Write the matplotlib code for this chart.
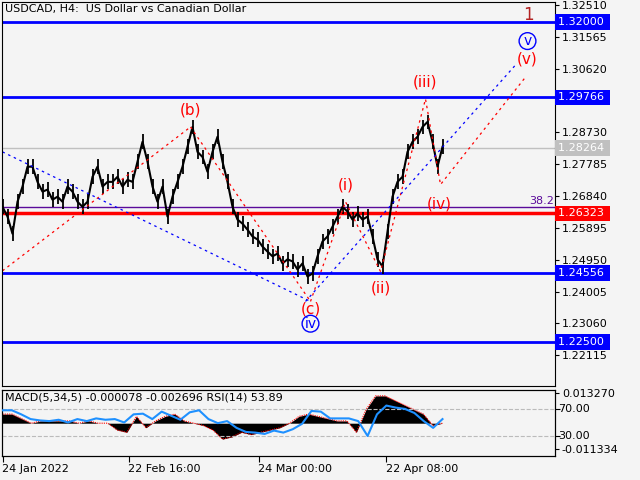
import matplotlib
matplotlib.use("Agg")
import matplotlib.pyplot as plt
import numpy as np

prices = [1.2652,1.2623,1.2572,1.2667,1.2712,1.2771,1.2771,1.2726,1.2697,1.2703,1.2673,1.2682,1.2667,1.2712,1.2697,
          1.2667,1.2652,1.2667,1.2741,1.2771,1.2712,1.2726,1.2726,1.2741,1.2712,1.2732,1.2726,1.2786,1.2845,1.2786,
          1.2712,1.2667,1.2712,1.2623,1.2682,1.2726,1.2771,1.2830,1.2889,1.2815,1.2800,1.2756,1.2815,1.2860,1.2786,
          1.2726,1.2652,1.2614,1.2602,1.2584,1.2564,1.2555,1.2534,1.2519,1.2505,1.2513,1.2484,1.2496,1.2490,1.2466,
          1.2484,1.2445,1.2454,1.2505,1.2549,1.2564,1.2593,1.2623,1.2652,1.2638,1.2614,1.2632,1.2614,1.2623,1.2564,
          1.2496,1.2475,1.2578,1.2682,1.2726,1.2741,1.2815,1.2845,1.2860,1.2889,1.2904,1.2845,1.2771,1.2830]
rsi = [68,68,62,55,53,52,54,50,55,52,56,54,55,50,62,63,55,66,60,54,65,68,55,49,52,42,36,35,33,38,35,
       40,48,67,66,56,56,56,52,30,62,75,72,70,64,52,42,55]
macd = [0.004,0.004,0.002,0.000,0.001,0.001,0.001,0.001,0.000,0.001,0.000,0.000,-0.003,-0.004,0.003,-0.002,
        0.001,0.003,0.004,0.001,0.000,-0.001,-0.003,-0.007,-0.006,-0.004,-0.005,-0.004,-0.003,-0.002,0.000,
        0.003,0.004,0.003,0.002,0.001,0.001,-0.004,0.006,0.012,0.012,0.010,0.008,0.006,0.004,-0.001,0.000]
levels_blue = [1.32000, 1.29766, 1.24556, 1.22500]
level_red = 1.26323
level_fib = 1.2650
level_last = 1.28264
yticks = [1.32510,1.31565,1.30620,1.28730,1.27785,1.26840,1.25895,1.24950,1.24005,1.23060,1.22115]
date_labels = ["24 Jan 2022", "22 Feb 16:00", "24 Mar 00:00", "22 Apr 08:00"]
date_pos = [0, 25.2, 51.2, 76.6]
red_ab = [(0, 1.2462), (37.6, 1.2889)]
red_bc = [(37.6, 1.2889), (61.6, 1.2371)]
blue_down = [(0, 1.2815), (61.6, 1.2371)]
red_imp = [(61.6, 1.2371), (68.6, 1.2667), (75.6, 1.2460), (84.6, 1.2972), (87.6, 1.2718), (104.6, 1.3037)]
blue_imp = [(60.6, 1.2371), (102.6, 1.3073)]
labels = [("(b)", 37.6, 1.2939, "red"), ("(c)", 61.6, 1.2348, "red"), ("(i)", 68.6, 1.2718, "red"),
          ("(ii)", 75.6, 1.2410, "red"), ("(iii)", 84.6, 1.3022, "red"), ("(iv)", 87.3, 1.2660, "red"),
          ("(v)", 105, 1.3090, "red"), ("1", 105.2, 1.3221, "#b22222")]
circ = [("iv", 61.6, 1.2305), ("v", 105, 1.3144)]

bg = "#f4f4f4"
fig = plt.figure(figsize=(6.4, 4.8), dpi=100, facecolor=bg)
ax = fig.add_axes([2/640, 1-386/480, 553/640, 384/480], facecolor=bg)
xl = (-0.1, 110.5)
x = np.arange(len(prices))
for v in levels_blue:
    ax.axhline(v, color="#0000ff", lw=2)
ax.axhline(level_red, color="#ff0000", lw=2.5)
ax.axhline(level_fib, color="#5a0a9a", lw=1)
ax.axhline(level_last, color="#c0c0c0", lw=1)
ax.text(110.3, level_fib + 0.0004, "38.2", color="#5a0a9a", ha="right", va="bottom", fontsize=8)
ax.plot(x, prices, color="black", lw=1.5)
ax.vlines(x, np.array(prices) - 0.0022, np.array(prices) + 0.0022, color="black", lw=1.3)
for seg, c in [(red_ab, "red"), (red_bc, "red"), (blue_down, "blue"), (red_imp, "red"), (blue_imp, "blue")]:
    xs, ys = zip(*seg)
    ax.plot(xs, ys, color=c, lw=0.9, ls=(0, (2, 3)))
for t, lx, ly, c in labels:
    ax.text(lx, ly, t, color=c, ha="center", va="center", fontsize=11 if t != "1" else 12)
for t, lx, ly in circ:
    ax.text(lx, ly, t, color="blue", ha="center", va="center", fontsize=10,
            bbox=dict(boxstyle="circle,pad=0.1", fc="none", ec="blue"))
ax.set_xlim(*xl)
ax.set_ylim(1.2120, 1.3260)
ax.yaxis.tick_right()
ax.set_yticks(yticks)
ax.set_yticklabels([f"{v:.5f}" for v in yticks], fontsize=8)
ax.tick_params(axis="y", length=3, pad=2)
ax.set_xticks([])
boxes = [(1.32000, "#0000ff"), (1.29766, "#0000ff"), (level_last, "#c0c0c0"),
         (level_red, "#ff0000"), (1.24556, "#0000ff"), (1.22500, "#0000ff")]
for v, fc in boxes:
    ax.text(1.005, v, f"{v:.5f}" + " ", transform=ax.get_yaxis_transform(), color="white", fontsize=8,
            va="center", ha="left", bbox=dict(boxstyle="square,pad=0.25", fc=fc, ec="none"))
ax.text(0.005, 0.995, "USDCAD, H4:  US Dollar vs Canadian Dollar", transform=ax.transAxes,
        fontsize=8, va="top", ha="left")

ax2 = fig.add_axes([2/640, 1-456/480, 553/640, 66/480], facecolor=bg)
xr = np.linspace(0, 88, len(rsi))
xm = np.linspace(0, 88, len(macd))
ax3 = ax2.twinx()
ax3.fill_between(xm, 0, macd, color="black", lw=0)
ax3.plot(xm, macd, color="red", lw=0.8, ls=(0, (1, 1)))
ax3.set_ylim(-0.01441, 0.01459)
ax3.set_yticks([0.013270, -0.011334])
ax3.set_yticklabels(["0.013270", "-0.011334"], fontsize=8)
ax3.tick_params(axis="y", length=3, pad=2)
ax2.plot(xr, rsi, color="#1e90ff", lw=1.5, zorder=5)
ax2.set_zorder(ax3.get_zorder() + 1)
ax2.patch.set_visible(False)
ax3.patch.set_facecolor(bg)
for v in (70, 30):
    ax2.axhline(v, color="#bbbbbb", lw=0.8, ls="--")
ax2.set_ylim(0.4, 98)
ax2.set_xlim(*xl)
ax3.set_xlim(*xl)
ax2.set_yticks([70, 30])
ax2.set_yticklabels([])
ax2.tick_params(axis="y", left=False)
ax2.yaxis.tick_right()
for v in (70, 30):
    ax2.text(1.005, v, f"{v:.2f}", transform=ax2.get_yaxis_transform(), fontsize=8, va="center")
ax2.set_xticks(date_pos)
ax2.set_xticklabels(date_labels, fontsize=8, ha="left")
ax2.tick_params(axis="x", length=4, pad=2)
ax2.text(0.005, 0.96, "MACD(5,34,5) -0.000078 -0.002696 RSI(14) 53.89", transform=ax2.transAxes,
         fontsize=8, va="top", ha="left")
fig.savefig("out.png", dpi=100, facecolor=bg)
